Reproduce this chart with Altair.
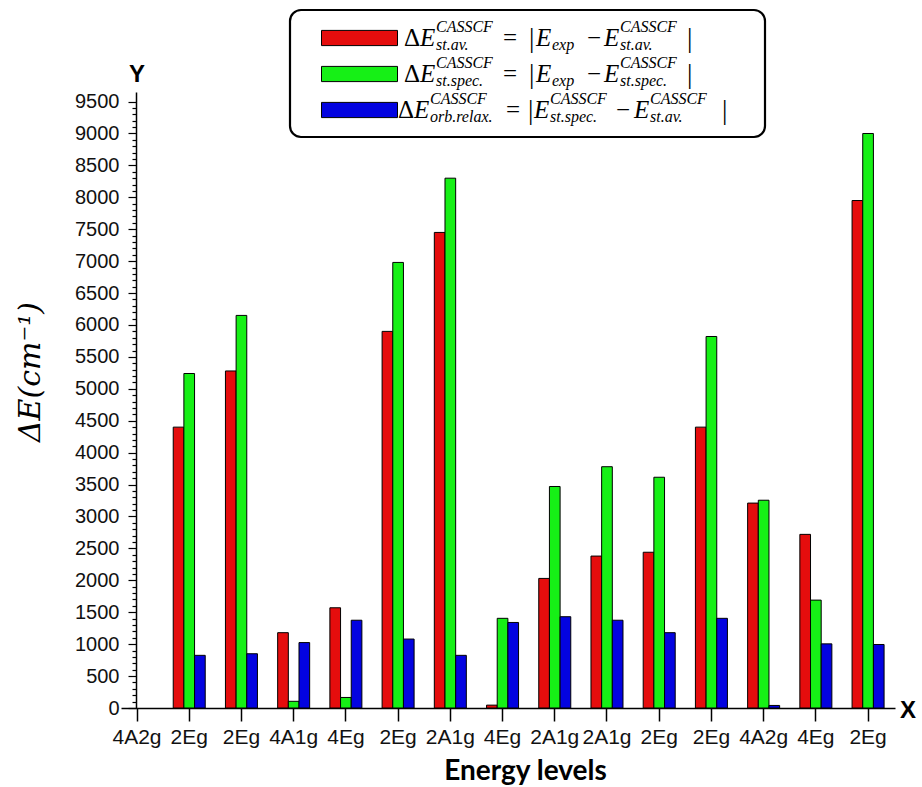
import altair as alt
import pandas as pd

# ---------------- data ----------------
level_names = ["4A2g", "2Eg", "2Eg", "4A1g", "4Eg", "2Eg", "2A1g", "4Eg",
               "2A1g", "2A1g", "2Eg", "2Eg", "4A2g", "4Eg", "2Eg"]
series_names = ["st.av.", "st.spec.", "orb.relax."]
st_av = [None, 4400, 5280, 1180, 1570, 5900, 7450, 45, 2030, 2380, 2440, 4400, 3210, 2720, 7950]
st_spec = [None, 5240, 6150, 105, 165, 6980, 8300, 1405, 3470, 3780, 3615, 5820, 3255, 1690, 9000]
orb_relax = [None, 825, 850, 1025, 1375, 1080, 825, 1340, 1430, 1375, 1180, 1405, 40, 1005, 995]
series_colors = ["#E50D0D", "#16F016", "#0303E0"]
y_tick_values = list(range(0, 9600, 100))

level_ids = [f"{i}|{n}" for i, n in enumerate(level_names)]
rows = []
for s, vals in zip(series_names, [st_av, st_spec, orb_relax]):
    for i, v in enumerate(vals):
        if v is not None:
            rows.append({"level": level_ids[i], "series": s, "value": v})
df = pd.DataFrame(rows)

# ---------------- layout ----------------
OX, OY = 121, 92          # page position of the plot origin
W, H = 774, 616

bars = alt.Chart(df).mark_bar(stroke="black", strokeWidth=1).encode(
    x=alt.X("level:N",
            scale=alt.Scale(domain=level_ids, paddingInner=0.387, paddingOuter=0.1045, align=0),
            axis=alt.Axis(
                labelExpr="split(datum.value, '|')[1]",
                labelFont="Liberation Sans",
                labelFontSize=21, labelColor="#111", labelAngle=0, labelPadding=5,
                labelOverlap=False,
                tickSize=13, tickWidth=1.5, tickColor="black",
                domainColor="black", domainWidth=1.5,
                title="Energy levels", titleFont="Lato", titleFontSize=28,
                titleFontWeight="bold", titleColor="black",
                titleX=404, titleY=71, titleBaseline="alphabetic", titleAlign="center")),
    xOffset=alt.XOffset("series:N", scale=alt.Scale(domain=series_names)),
    y=alt.Y("value:Q",
            scale=alt.Scale(domain=[0, 9650], nice=False, zero=True),
            axis=alt.Axis(
                values=y_tick_values, format="d",
                labelExpr="datum.value % 500 === 0 ? datum.label : ''",
                tickSize={"condition": {"test": "datum.value % 500 === 0", "value": 8}, "value": 4},
                tickWidth=1.2, tickColor="black",
                domainColor="black", domainWidth=1.5,
                labelFont="Liberation Sans", labelFontSize=20, labelColor="#111",
                labelPadding=9, offset=-15, grid=False, title=None)),
    color=alt.Color("series:N",
                    scale=alt.Scale(domain=series_names, range=series_colors),
                    legend=alt.Legend(
                        orient="none", legendX=290 - OX, legendY=10 - OY, title=None,
                        symbolType="M-1,-0.2L1,-0.2L1,0.2L-1,0.2Z", symbolSize=5776,
                        symbolStrokeColor="black", symbolStrokeWidth=1, symbolOffset=17,
                        labelExpr="''", labelFontSize=20, labelOffset=4,
                        clipHeight=28, rowPadding=8, padding=14)),
)


def text_layer(txt, px, py, size, style="normal", weight="normal",
               font="Liberation Serif", angle=None, align="left", baseline="alphabetic"):
    kw = dict(align=align, baseline=baseline, font=font, fontSize=size,
              fontStyle=style, fontWeight=weight, color="black")
    if angle is not None:
        kw["angle"] = angle
    return alt.Chart(pd.DataFrame({"t": [txt]})).mark_text(**kw).encode(
        text="t:N", x=alt.value(px - OX), y=alt.value(py - OY))


# legend frame (page coordinates 290..765 x 10..137)
legend_frame = alt.Chart(pd.DataFrame({"k": [0]})).mark_rect(
    fillOpacity=0, stroke="black", strokeWidth=2.2, cornerRadius=11).encode(
    x=alt.value(290 - OX), x2=alt.value(765 - OX), y=alt.value(10 - OY), y2=alt.value(137 - OY))

# legend formula pieces: (text, page x, kind)
legend_rows = [
    [("Δ", 404, "up"), ("E", 420, "it"), ("CASSCF", 436, "sup"), ("st.av.", 436, "sub"),
     ("=", 503, "up"), ("|", 529, "bar"), ("E", 536, "it"), ("exp", 552, "sub"),
     ("−", 587, "up"), ("E", 604, "it"), ("CASSCF", 620, "sup"), ("st.av.", 620, "sub"),
     ("|", 687, "bar")],
    [("Δ", 404, "up"), ("E", 420, "it"), ("CASSCF", 436, "sup"), ("st.spec.", 436, "sub"),
     ("=", 503, "up"), ("|", 529, "bar"), ("E", 536, "it"), ("exp", 552, "sub"),
     ("−", 587, "up"), ("E", 604, "it"), ("CASSCF", 620, "sup"), ("st.spec.", 620, "sub"),
     ("|", 687, "bar")],
    [("Δ", 398, "up"), ("E", 414, "it"), ("CASSCF", 430, "sup"), ("orb.relax.", 430, "sub"),
     ("=", 506, "up"), ("|", 528, "bar"), ("E", 534, "it"), ("CASSCF", 550, "sup"),
     ("st.spec.", 550, "sub"), ("−", 616, "up"), ("E", 634, "it"), ("CASSCF", 650, "sup"),
     ("st.av.", 650, "sub"), ("|", 722, "bar")],
]
row_baselines = [45.5, 81.5, 117.5]

layers = [legend_frame, bars]
for pieces, base in zip(legend_rows, row_baselines):
    for txt, px, kind in pieces:
        if kind == "up":
            layers.append(text_layer(txt, px, base, 25))
        elif kind == "bar":
            layers.append(text_layer(txt, px, base + 1, 27))
        elif kind == "it":
            layers.append(text_layer(txt, px, base, 25, style="italic"))
        elif kind == "sup":
            layers.append(text_layer(txt, px, base - 14, 16, style="italic"))
        else:
            layers.append(text_layer(txt, px, base + 4, 16, style="italic"))

# axis captions
layers.append(text_layer("ΔE(cm⁻¹)", 31, 372, 30, style="italic", font="DejaVu Serif",
                         angle=270, align="center", baseline="middle"))
layers.append(text_layer("Y", 137, 82, 24, weight="bold", font="Liberation Sans", align="center"))
layers.append(text_layer("X", 900, 718, 24, weight="bold", font="Liberation Sans"))

chart = alt.layer(*layers).properties(
    width=W, height=H,
    autosize=alt.AutoSizeParams(type="none"),
    padding={"left": OX, "top": OY, "right": 922 - OX - W, "bottom": 787 - OY - H},
    background="white",
).configure_view(strokeWidth=0)

chart.save("out.html", embed_options={"renderer": "svg", "actions": False})
